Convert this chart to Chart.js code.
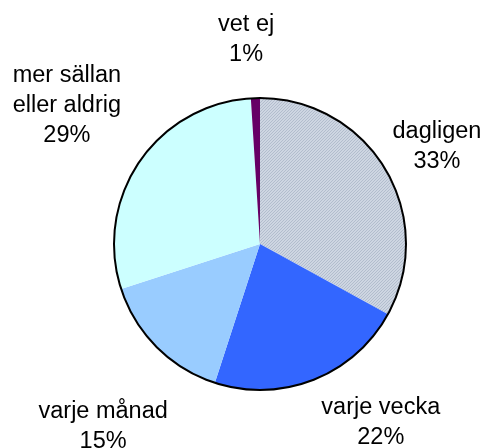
<!DOCTYPE html>
<html lang="sv">
<head>
    <meta charset="UTF-8">
    <title>Pie</title>
    <script src="https://cdn.jsdelivr.net/npm/chart.js"></script>
    <style>
        body { margin: 0; background: #fff; }
        #wrap { position: relative; width: 485px; height: 448px; }
    </style>
</head>
<body>
    <div id="wrap"><canvas id="myChart"></canvas></div>

    <script>
        // data, clockwise from 12 o'clock
        const categories = ['dagligen', 'varje vecka', 'varje månad', 'mer sällan eller aldrig', 'vet ej'];
        const labelLines = [['dagligen'], ['varje vecka'], ['varje månad'], ['mer sällan', 'eller aldrig'], ['vet ej']];
        const values = [33, 22, 15, 29, 1];

        // small tweaks so the labels sit where Excel put them
        const labelNudge = [[1, -1], [40, 2], [2, 48], [-16, -23], [-8, -15]];

        // hatched grey for the first slice
        function makeHatch() {
            const c = document.createElement('canvas');
            c.width = 3; c.height = 3;
            const g = c.getContext('2d');
            g.fillStyle = '#ced6e2';
            g.fillRect(0, 0, 3, 3);
            g.fillStyle = '#b2bdcd';
            for (let i = 0; i < 3; i++) g.fillRect(i, 2 - i, 1, 1);
            return g.createPattern(c, 'repeat');
        }
        const ctx = document.getElementById('myChart').getContext('2d');
        const colors = [makeHatch(), '#3366ff', '#99ccff', '#ccffff', '#660066'];

        const FONT = '23.5px "Liberation Sans", Arial, sans-serif';
        const LINE_H = 30;

        const outlineAndLabels = {
            id: 'outlineAndLabels',
            afterDatasetsDraw(chart) {
                const c = chart.ctx;
                const meta = chart.getDatasetMeta(0);
                const a0 = meta.data[0];
                const cx = a0.x, cy = a0.y, r = a0.outerRadius;

                c.save();
                c.beginPath();
                c.arc(cx, cy, r, 0, Math.PI * 2);
                c.lineWidth = 2;
                c.strokeStyle = '#000';
                c.stroke();

                c.font = FONT;
                c.fillStyle = '#000';
                c.textAlign = 'center';
                c.textBaseline = 'middle';
                const total = values.reduce((s, v) => s + v, 0);
                meta.data.forEach((arc, i) => {
                    const mid = (arc.startAngle + arc.endAngle) / 2;
                    const ux = Math.cos(mid), uy = Math.sin(mid);
                    const lines = labelLines[i].concat([Math.round(values[i] / total * 100) + '%']);
                    let w = 0;
                    lines.forEach(t => { w = Math.max(w, c.measureText(t).width); });
                    const hw = w / 2, hh = lines.length * LINE_H / 2;
                    const x = cx + ux * (r + 14) + ux * hw + labelNudge[i][0];
                    const y = cy + uy * (r + 14) + uy * hh + labelNudge[i][1];
                    lines.forEach((t, k) => {
                        c.fillText(t, x, y - hh + LINE_H / 2 + k * LINE_H);
                    });
                });
                c.restore();
            }
        };

        const chart = new Chart(ctx, {
            type: 'pie',
            data: {
                labels: categories,
                datasets: [{
                    data: values,
                    backgroundColor: colors,
                    borderWidth: 0
                }]
            },
            options: {
                responsive: true,
                maintainAspectRatio: false,
                animation: false,
                layout: { padding: { left: 114, right: 79, top: 98, bottom: 58 } },
                plugins: {
                    legend: { display: false },
                    tooltip: { enabled: false }
                }
            },
            plugins: [outlineAndLabels]
        });
    </script>
</body>
</html>
